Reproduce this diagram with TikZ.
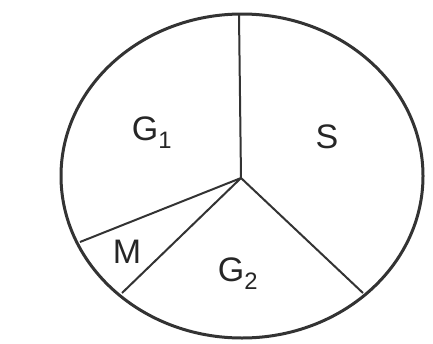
\documentclass[tikz,border=0pt]{standalone}
\usepackage{fontspec}
\setmainfont{Liberation Sans}
\usetikzlibrary{positioning}

\begin{document}
\begin{tikzpicture}[
    x=1pt, y=-1pt,
    rim/.style={draw, line width=3pt, black!80},
    spoke/.style={draw, line width=2pt, black!80},
    sector/.style={font=\fontsize{34}{40}\selectfont, text=black!85, inner sep=0pt}
]
\useasboundingbox (0,0) rectangle (433,343);

% Outer ellipse
\draw[rim] (242,176) ellipse [x radius=181, y radius=162];

% Centre and rim points
\coordinate (O) at (241,178);
\coordinate (Top) at (239,15);
\coordinate (Right) at (363,293);
\coordinate (Low) at (122,293);
\coordinate (Left) at (80,242);

% Spokes
\draw[spoke] (O) -- (Top);
\draw[spoke] (O) -- (Right);
\draw[spoke] (O) -- (Low);
\draw[spoke] (O) -- (Left);

% Sector labels
\node[sector] (G1) at (152,133) {G\textsubscript{1}};
\node[sector] (S) at (327,137) {S};
\node[sector] (G2) at (238,274) {G\textsubscript{2}};
\node[sector] (M) at (127,252) {M};

\end{tikzpicture}
\end{document}
